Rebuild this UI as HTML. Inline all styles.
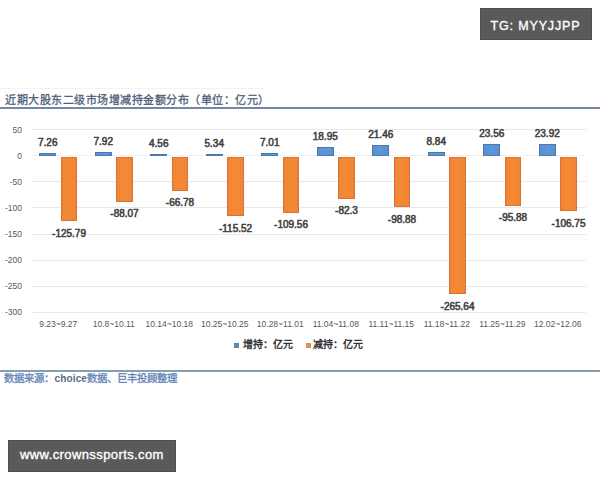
<!DOCTYPE html>
<html lang="zh-CN"><head><meta charset="utf-8">
<style>
html,body{margin:0;padding:0;background:#fff;}
body{width:600px;height:480px;position:relative;overflow:hidden;font-family:"Liberation Sans",sans-serif;}
.abs{position:absolute;}
#tg{position:absolute;left:480px;top:8px;width:112px;height:32px;background:#5a5a5a;box-shadow:inset 0 0 0 1px #4e4e4e;color:#fff;font-size:12.5px;line-height:32px;text-align:center;letter-spacing:0.85px;text-indent:-1px;padding-top:2px;box-sizing:border-box;-webkit-text-stroke:0.35px #fff;}
#wm{position:absolute;left:8px;top:440px;width:168px;height:32px;background:#5a5a5a;box-shadow:inset 0 0 0 1px #4e4e4e;color:#fff;font-size:13px;line-height:30px;text-align:left;padding-left:12px;box-sizing:border-box;letter-spacing:0.4px;-webkit-text-stroke:0.35px #fff;}
#faint{position:absolute;left:0;top:88px;width:265px;height:1px;background:#f2f2f2;}
#title{position:absolute;left:5px;top:91.5px;font-size:11px;letter-spacing:0.5px;line-height:16px;color:#4f5f78;white-space:nowrap;-webkit-text-stroke:0.3px #4f5f78;}
#tline{position:absolute;left:0;top:107px;width:600px;height:1.5px;background:#7289a5;}
.gl{position:absolute;left:30.5px;width:555px;height:1px;background:#e9e9e9;}
.yl{position:absolute;left:0;width:22px;text-align:right;font-size:8.5px;line-height:12px;color:#595959;}
.bb{position:absolute;background:linear-gradient(90deg,#5a8fd0,#5d97dc 50%,#5a8fd0);box-shadow:inset 0 0 0 1px #4a7aa8;}
.ob{position:absolute;background:linear-gradient(90deg,#ee8338,#f58a34 50%,#ee8338);box-shadow:inset 0 0 0 1px #d67436;}
.vl{position:absolute;width:60px;text-align:center;font-size:10px;line-height:13px;font-weight:normal;-webkit-text-stroke:0.55px #404040;color:#404040;letter-spacing:0px;text-indent:0px;}
.xl{position:absolute;top:317.8px;width:60px;text-align:center;font-size:8.5px;line-height:12px;color:#595959;white-space:nowrap;}
#leg{position:absolute;top:338px;left:0;width:600px;font-size:10px;line-height:14px;font-weight:bold;color:#333;font-family:"Liberation Serif",serif;}
.sq{position:absolute;width:5px;height:5px;top:4.5px;}
#bline{position:absolute;left:0;top:370px;width:600px;height:1.5px;background:#84a0b0;}
#src{position:absolute;left:4px;top:372px;font-size:10.4px;line-height:14px;color:#6888b8;white-space:nowrap;-webkit-text-stroke:0.35px #6888b8;}
#src b{color:#5b6b88;-webkit-text-stroke:0;font-size:10px;letter-spacing:0.15px;margin-left:0.5px;}
</style></head><body>
<div id="tg">TG: MYYJJPP</div>
<div id="faint"></div>
<div id="title">近期大股东二级市场增减持金额分布（单位：亿元）</div>
<div id="tline"></div>
<div class="gl" style="top:129.10px"></div>
<div class="yl" style="top:123.60px">50</div>
<div class="gl" style="top:155.20px;background:#f1f1f1"></div>
<div class="yl" style="top:149.70px">0</div>
<div class="gl" style="top:181.30px"></div>
<div class="yl" style="top:175.80px">-50</div>
<div class="gl" style="top:207.40px"></div>
<div class="yl" style="top:201.90px">-100</div>
<div class="gl" style="top:233.50px"></div>
<div class="yl" style="top:228.00px">-150</div>
<div class="gl" style="top:259.60px"></div>
<div class="yl" style="top:254.10px">-200</div>
<div class="gl" style="top:285.70px"></div>
<div class="yl" style="top:280.20px">-250</div>
<div class="gl" style="top:311.80px"></div>
<div class="yl" style="top:306.30px">-300</div>
<div class="bb" style="left:39.25px;top:152.71px;width:17px;height:2.99px"></div>
<div class="vl" style="left:17.75px;top:135.81px">7.26</div>
<div class="ob" style="left:60.65px;top:156.70px;width:16.75px;height:64.66px"></div>
<div class="vl" style="left:39.03px;top:226.96px">-125.79</div>
<div class="xl" style="left:28.25px">9.23~9.27</div>
<div class="bb" style="left:94.75px;top:152.37px;width:17px;height:3.33px"></div>
<div class="vl" style="left:73.25px;top:135.47px">7.92</div>
<div class="ob" style="left:116.15px;top:156.70px;width:16.75px;height:44.97px"></div>
<div class="vl" style="left:94.53px;top:207.27px">-88.07</div>
<div class="xl" style="left:83.75px">10.8~10.11</div>
<div class="bb" style="left:150.25px;top:154.12px;width:17px;height:1.58px"></div>
<div class="vl" style="left:128.75px;top:137.22px">4.56</div>
<div class="ob" style="left:171.65px;top:156.70px;width:16.75px;height:33.86px"></div>
<div class="vl" style="left:150.03px;top:196.16px">-66.78</div>
<div class="xl" style="left:139.25px">10.14~10.18</div>
<div class="bb" style="left:205.75px;top:153.71px;width:17px;height:1.99px"></div>
<div class="vl" style="left:184.25px;top:136.81px">5.34</div>
<div class="ob" style="left:227.15px;top:156.70px;width:16.75px;height:59.30px"></div>
<div class="vl" style="left:205.53px;top:221.60px">-115.52</div>
<div class="xl" style="left:194.75px">10.25~10.25</div>
<div class="bb" style="left:261.25px;top:152.84px;width:17px;height:2.86px"></div>
<div class="vl" style="left:239.75px;top:135.94px">7.01</div>
<div class="ob" style="left:282.65px;top:156.70px;width:16.75px;height:56.19px"></div>
<div class="vl" style="left:261.02px;top:218.49px">-109.56</div>
<div class="xl" style="left:250.25px">10.28~11.01</div>
<div class="bb" style="left:316.75px;top:146.61px;width:17px;height:9.09px"></div>
<div class="vl" style="left:295.25px;top:129.71px">18.95</div>
<div class="ob" style="left:338.15px;top:156.70px;width:16.75px;height:41.96px"></div>
<div class="vl" style="left:316.52px;top:204.26px">-82.3</div>
<div class="xl" style="left:305.75px">11.04~11.08</div>
<div class="bb" style="left:372.25px;top:145.30px;width:17px;height:10.40px"></div>
<div class="vl" style="left:350.75px;top:128.40px">21.46</div>
<div class="ob" style="left:393.65px;top:156.70px;width:16.75px;height:50.62px"></div>
<div class="vl" style="left:372.02px;top:212.92px">-98.88</div>
<div class="xl" style="left:361.25px">11.11~11.15</div>
<div class="bb" style="left:427.75px;top:151.89px;width:17px;height:3.81px"></div>
<div class="vl" style="left:406.25px;top:134.99px">8.84</div>
<div class="ob" style="left:449.15px;top:156.70px;width:16.75px;height:137.66px"></div>
<div class="vl" style="left:427.52px;top:299.96px">-265.64</div>
<div class="xl" style="left:416.75px">11.18~11.22</div>
<div class="bb" style="left:483.25px;top:144.20px;width:17px;height:11.50px"></div>
<div class="vl" style="left:461.75px;top:127.30px">23.56</div>
<div class="ob" style="left:504.65px;top:156.70px;width:16.75px;height:49.05px"></div>
<div class="vl" style="left:483.02px;top:211.35px">-95.88</div>
<div class="xl" style="left:472.25px">11.25~11.29</div>
<div class="bb" style="left:538.75px;top:144.01px;width:17px;height:11.69px"></div>
<div class="vl" style="left:517.25px;top:127.11px">23.92</div>
<div class="ob" style="left:560.15px;top:156.70px;width:16.75px;height:54.72px"></div>
<div class="vl" style="left:538.52px;top:217.02px">-106.75</div>
<div class="xl" style="left:527.75px">12.02~12.06</div>
<div id="leg"><div class="sq" style="left:234px;background:#5b86b3"></div><span class="abs" style="left:243px">增持：亿元</span><div class="sq" style="left:306px;background:#d9925a"></div><span class="abs" style="left:313px">减持：亿元</span></div>
<div id="bline"></div>
<div id="src">数据来源：<b>choice</b>数据、巨丰投顾整理</div>
<div id="wm">www.crownssports.com</div>
</body></html>
